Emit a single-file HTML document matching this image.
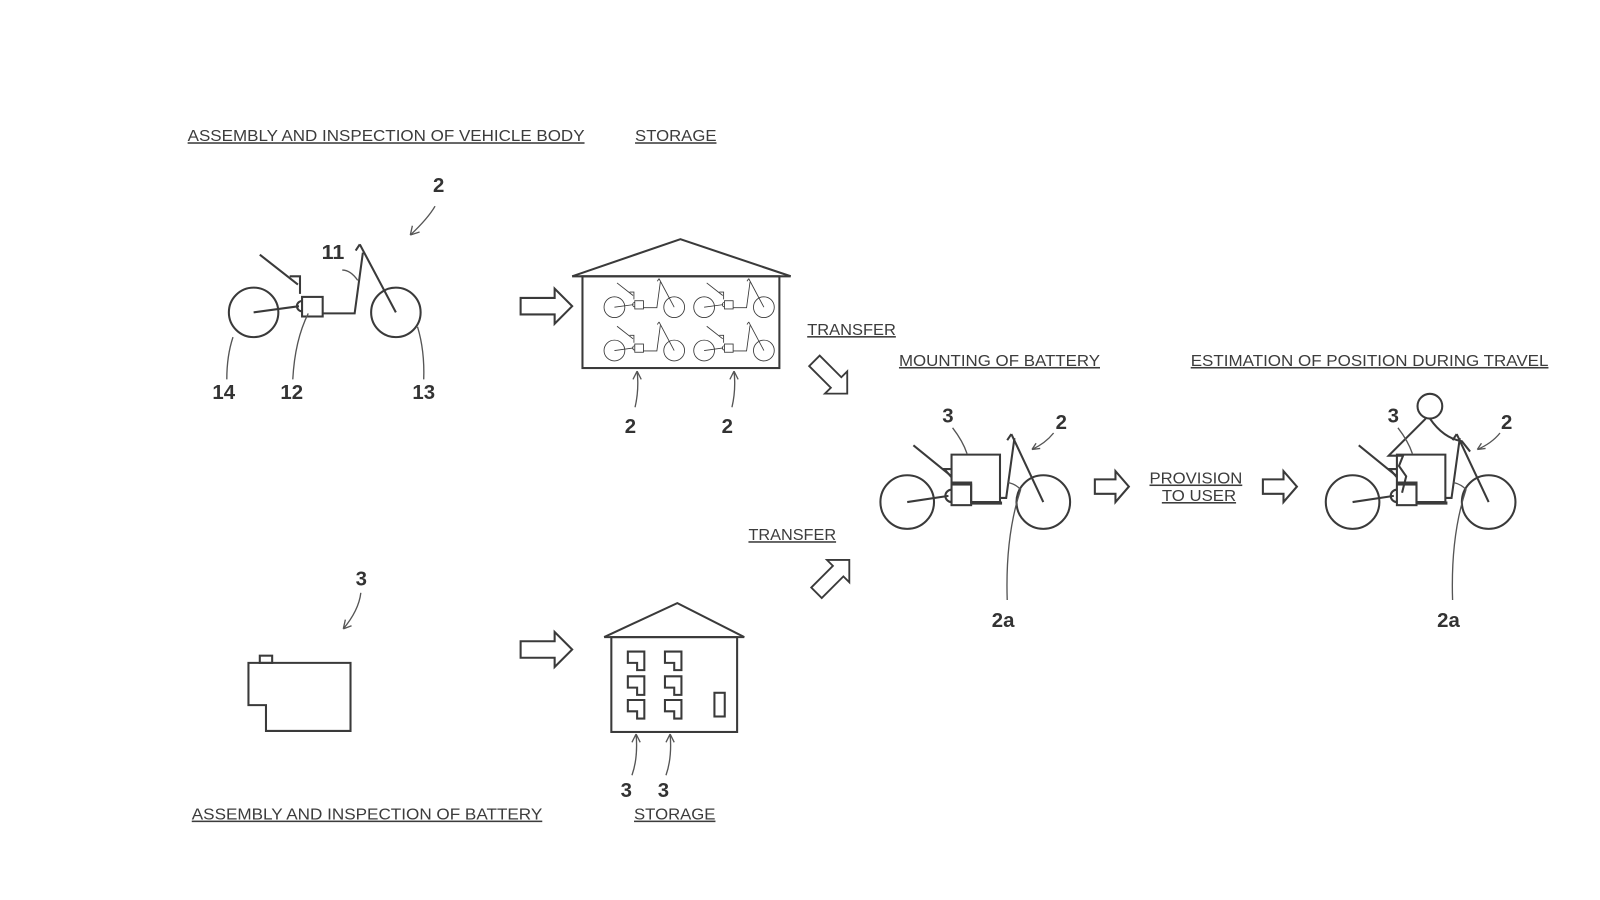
<!DOCTYPE html>
<html><head><meta charset="utf-8"><style>
html,body{margin:0;padding:0;background:#fff;width:1600px;height:900px;overflow:hidden}
svg{display:block}
text{font-family:"Liberation Sans",sans-serif;fill:#444}
.lb{font-size:15px;text-decoration:underline;fill:#3c3c3c}
.n{font-size:20px;fill:#333;font-weight:bold}
</style></head><body>
<svg width="1600" height="900" viewBox="0 0 1552 873" xmlns="http://www.w3.org/2000/svg">
<defs>
<g id="bike" fill="none" stroke="#3a3a3a" stroke-width="2">
  <circle cx="0" cy="0" r="24"/>
  <circle cx="138" cy="0" r="24"/>
  <line x1="0" y1="0" x2="44" y2="-6"/>
  <path d="M47,-11 A5,5 0 0 0 47,-1"/>
  <rect x="47" y="-15" width="20" height="19"/>
  <polyline points="67,1 98,1 106,-58"/>
  <line x1="103" y1="-66" x2="138" y2="0"/>
  <line x1="99" y1="-60" x2="103" y2="-66"/>
  <line x1="6" y1="-56" x2="43" y2="-27"/>
  <polyline points="35,-35 45,-35 45,-18"/>
</g>
<g id="mbike" fill="none" stroke="#3a3a3a" stroke-width="2">
  <circle cx="0" cy="0" r="26"/>
  <circle cx="132" cy="0" r="26"/>
  <line x1="0" y1="0" x2="40" y2="-6"/>
  <path d="M43,-12 A5,5 0 0 0 43,0"/>
  <rect x="43" y="-17" width="19" height="20"/>
  <polygon points="43,-46 90,-46 90,0 62,0 62,-19 43,-19"/>
  <line x1="62" y1="1" x2="92" y2="1" stroke-width="3"/>
  <polyline points="90,-4 96,-4 104,-62"/>
  <line x1="101" y1="-66" x2="132" y2="0"/>
  <line x1="97" y1="-60" x2="101" y2="-66"/>
  <line x1="6" y1="-55" x2="43" y2="-25"/>
  <polyline points="43,-32 36,-32 43,-24"/>
</g>
<g id="harr" fill="#fff" stroke="#3a3a3a" stroke-width="2">
  <polygon points="0,-8 33,-8 33,-17 50,0 33,17 33,8 0,8"/>
</g>
<g id="sarr" fill="#fff" stroke="#3a3a3a" stroke-width="2">
  <polygon points="0,-7 20,-7 20,-15 33,0 20,15 20,7 0,7"/>
</g>
<g id="batt" fill="none" stroke="#3a3a3a" stroke-width="2">
  <polygon points="0,0 16,0 16,18 9,18 9,11 0,11"/>
</g>
</defs>

<text class="lb" x="182" y="137" textLength="385" lengthAdjust="spacingAndGlyphs">ASSEMBLY AND INSPECTION OF VEHICLE BODY</text>
<text class="lb" x="616" y="137" textLength="79" lengthAdjust="spacingAndGlyphs">STORAGE</text>
<text class="lb" x="783" y="325" textLength="86" lengthAdjust="spacingAndGlyphs">TRANSFER</text>
<text class="lb" x="872" y="355" textLength="195" lengthAdjust="spacingAndGlyphs">MOUNTING OF BATTERY</text>
<text class="lb" x="1155" y="355" textLength="347" lengthAdjust="spacingAndGlyphs">ESTIMATION OF POSITION DURING TRAVEL</text>
<text class="lb" x="726" y="524" textLength="85" lengthAdjust="spacingAndGlyphs">TRANSFER</text>
<text class="lb" x="1115" y="469" textLength="90" lengthAdjust="spacingAndGlyphs">PROVISION</text>
<text class="lb" x="1127" y="486" textLength="72" lengthAdjust="spacingAndGlyphs">TO USER</text>
<text class="lb" x="186" y="795" textLength="340" lengthAdjust="spacingAndGlyphs">ASSEMBLY AND INSPECTION OF BATTERY</text>
<text class="lb" x="615" y="795" textLength="79" lengthAdjust="spacingAndGlyphs">STORAGE</text>

<use href="#bike" transform="translate(246,303)"/>
<g fill="none" stroke="#555" stroke-width="1.3">
  <path d="M422,200 Q415,212 398,228"/><path d="M398,228 l2,-9 M398,228 l9,-3"/>
  <path d="M347,272 Q340,262 332,262"/>
  <path d="M226,327 Q220,345 220,368"/>
  <path d="M299,304 Q286,330 284,368"/>
  <path d="M405,317 Q412,340 411,368"/>
</g>
<text class="n" x="420" y="186" textLength="11" lengthAdjust="spacingAndGlyphs">2</text>
<text class="n" x="312" y="251" textLength="22" lengthAdjust="spacingAndGlyphs">11</text>
<text class="n" x="206" y="387" textLength="22" lengthAdjust="spacingAndGlyphs">14</text>
<text class="n" x="272" y="387" textLength="22" lengthAdjust="spacingAndGlyphs">12</text>
<text class="n" x="400" y="387" textLength="22" lengthAdjust="spacingAndGlyphs">13</text>

<use href="#harr" transform="translate(505,297)"/>
<g fill="none" stroke="#3a3a3a" stroke-width="2">
  <polyline points="555,268 660,232 767,268"/>
  <line x1="555" y1="268" x2="767" y2="268"/>
  <rect x="565" y="268" width="191" height="89"/>
</g>
<g transform="translate(596,298) scale(0.42)"><use href="#bike"/></g>
<g transform="translate(683,298) scale(0.42)"><use href="#bike"/></g>
<g transform="translate(596,340) scale(0.42)"><use href="#bike"/></g>
<g transform="translate(683,340) scale(0.42)"><use href="#bike"/></g>
<g fill="none" stroke="#555" stroke-width="1.3">
  <path d="M616,395 Q620,378 618,360 M618,360 l-4,8 M618,360 l4,8"/>
  <path d="M710,395 Q714,378 712,360 M712,360 l-4,8 M712,360 l4,8"/>
</g>
<text class="n" x="606" y="420" textLength="11" lengthAdjust="spacingAndGlyphs">2</text>
<text class="n" x="700" y="420" textLength="11" lengthAdjust="spacingAndGlyphs">2</text>

<use href="#harr" transform="translate(790,350) rotate(45) scale(0.9)"/>
<use href="#harr" transform="translate(792,575) rotate(-45) scale(0.9)"/>

<use href="#mbike" transform="translate(880,487)"/>
<g fill="none" stroke="#555" stroke-width="1.3">
  <path d="M924,415 Q934,428 938,440"/>
  <path d="M1022,420 Q1014,430 1001,436 M1001,436 l8,-1 M1001,436 l4,-6"/>
  <path d="M977,582 Q975,520 990,475 Q986,470 978,468"/>
</g>
<text class="n" x="914" y="410" textLength="11" lengthAdjust="spacingAndGlyphs">3</text>
<text class="n" x="1024" y="416" textLength="11" lengthAdjust="spacingAndGlyphs">2</text>
<text class="n" x="962" y="608" textLength="22" lengthAdjust="spacingAndGlyphs">2a</text>

<use href="#sarr" transform="translate(1062,472)"/>
<use href="#sarr" transform="translate(1225,472)"/>

<use href="#mbike" transform="translate(1312,487)"/>
<g fill="none" stroke="#3a3a3a" stroke-width="2">
  <circle cx="1387" cy="394" r="12"/>
  <path d="M1383,406 L1347,442 L1361,442 L1357,452 L1364,462 L1360,478"/>
  <path d="M1387,406 Q1400,425 1418,428 L1426,438"/>
</g>
<g fill="none" stroke="#555" stroke-width="1.3">
  <path d="M1356,415 Q1366,428 1370,440"/>
  <path d="M1455,420 Q1447,430 1433,436 M1433,436 l8,-1 M1433,436 l4,-6"/>
  <path d="M1409,582 Q1407,520 1422,475 Q1418,470 1410,468"/>
</g>
<text class="n" x="1346" y="410" textLength="11" lengthAdjust="spacingAndGlyphs">3</text>
<text class="n" x="1456" y="416" textLength="11" lengthAdjust="spacingAndGlyphs">2</text>
<text class="n" x="1394" y="608" textLength="22" lengthAdjust="spacingAndGlyphs">2a</text>

<g fill="none" stroke="#3a3a3a" stroke-width="2">
  <polygon points="241,643 340,643 340,709 258,709 258,684 241,684"/>
  <rect x="252" y="636" width="12" height="7"/>
</g>
<g fill="none" stroke="#555" stroke-width="1.3">
  <path d="M350,575 Q348,592 333,610 M333,610 l2,-9 M333,610 l8,-3"/>
</g>
<text class="n" x="345" y="568" textLength="11" lengthAdjust="spacingAndGlyphs">3</text>

<use href="#harr" transform="translate(505,630)"/>
<g fill="none" stroke="#3a3a3a" stroke-width="2">
  <polyline points="586,618 657,585 722,618"/>
  <line x1="586" y1="618" x2="722" y2="618"/>
  <rect x="593" y="618" width="122" height="92"/>
  <rect x="693" y="672" width="10" height="23"/>
</g>
<use href="#batt" transform="translate(609,632)"/>
<use href="#batt" transform="translate(645,632)"/>
<use href="#batt" transform="translate(609,656)"/>
<use href="#batt" transform="translate(645,656)"/>
<use href="#batt" transform="translate(609,679)"/>
<use href="#batt" transform="translate(645,679)"/>
<g fill="none" stroke="#555" stroke-width="1.3">
  <path d="M613,752 Q619,735 617,712 M617,712 l-4,8 M617,712 l4,8"/>
  <path d="M646,752 Q652,735 650,712 M650,712 l-4,8 M650,712 l4,8"/>
</g>
<text class="n" x="602" y="773" textLength="11" lengthAdjust="spacingAndGlyphs">3</text>
<text class="n" x="638" y="773" textLength="11" lengthAdjust="spacingAndGlyphs">3</text>
</svg>
</body></html>
